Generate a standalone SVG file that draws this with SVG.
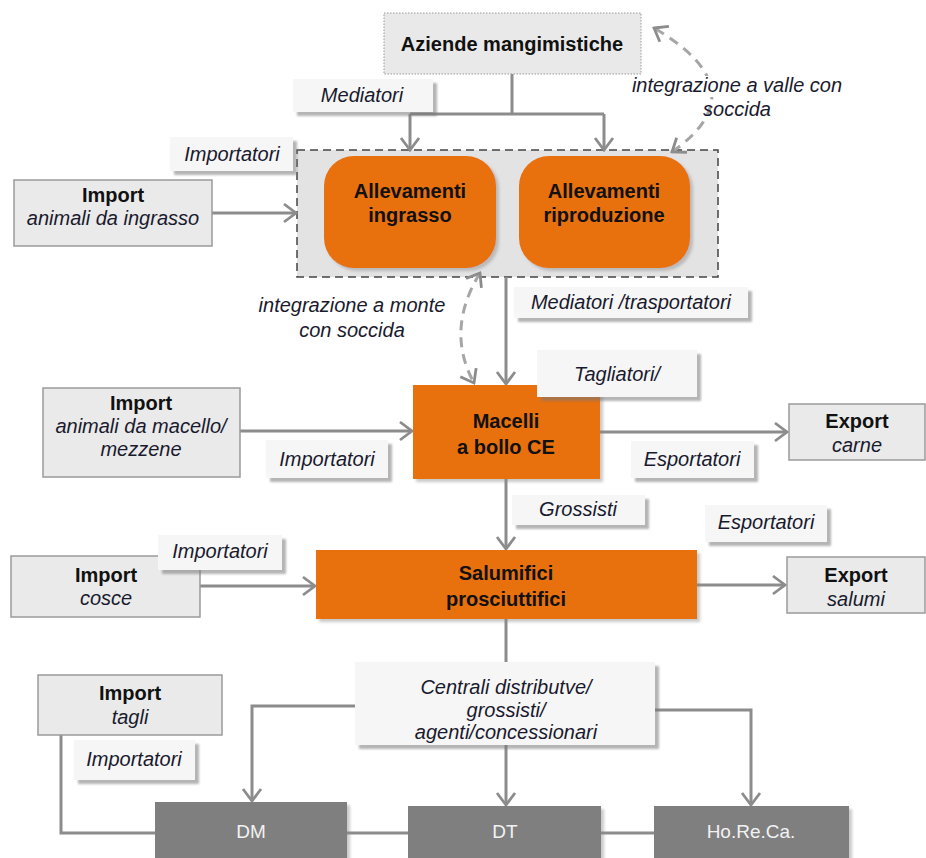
<svg xmlns="http://www.w3.org/2000/svg" width="926" height="858" viewBox="0 0 926 858">
<defs>
  <filter id="sh" x="-10%" y="-10%" width="130%" height="140%">
    <feDropShadow dx="4" dy="4" stdDeviation="1.2" flood-color="#777" flood-opacity="0.55"/>
  </filter>
  <filter id="sh2" x="-10%" y="-10%" width="130%" height="140%">
    <feDropShadow dx="3" dy="3" stdDeviation="1.5" flood-color="#888" flood-opacity="0.45"/>
  </filter>
  <marker id="ar" markerUnits="userSpaceOnUse" markerWidth="16" markerHeight="22" viewBox="0 0 16 22" refX="14" refY="11" orient="auto-start-reverse">
    <path d="M2,2 L14,11 L2,20" fill="none" stroke="#8C8C8C" stroke-width="2.8"/>
  </marker>
</defs>
<style>
  .b { font-family: "Liberation Sans", Arial, sans-serif; font-weight: bold; font-size: 20px; fill: #111; text-anchor: middle; }
  .i { font-family: "Liberation Sans", Arial, sans-serif; font-style: italic; font-size: 20px; fill: #1a1a2e; text-anchor: middle; }
  .w { font-family: "Liberation Sans", Arial, sans-serif; font-size: 19px; fill: #F2F2F2; text-anchor: middle; }
  .lab { fill: #F6F6F6; filter: url(#sh); }
  .gbox { fill: #EAEAEA; stroke: #9A9A9A; stroke-width: 1.5; }
  .org { fill: #E8700F; filter: url(#sh2); }
  .dk { fill: #7F7F7F; filter: url(#sh2); }
  .c { fill: none; stroke: #8C8C8C; stroke-width: 3; }
  .ca { fill: none; stroke: #8C8C8C; stroke-width: 3; marker-end: url(#ar); }
  .cd { fill: none; stroke: #A6A6A6; stroke-width: 3; stroke-dasharray: 10,7; marker-start: url(#ar); marker-end: url(#ar); }
</style>
<rect width="926" height="858" fill="#FFFFFF"/>

<g id="container">
  <rect x="297" y="150" width="421" height="127" fill="#E3E3E3" stroke="#444" stroke-width="1.5" stroke-dasharray="8,5"/>
</g>

<g id="connectors">
  <path class="c" d="M512,74 V114 M410,114 H604"/>
  <path class="ca" d="M410,114 V150"/>
  <path class="ca" d="M604,114 V150"/>
  <path class="ca" d="M212,213 H296"/>
  <path class="ca" d="M506,277 V384"/>
  <path class="ca" d="M240,431 H412"/>
  <path class="ca" d="M600,432 H787"/>
  <path class="ca" d="M506,479 V549"/>
  <path class="ca" d="M200,586 H315"/>
  <path class="ca" d="M697,585 H785"/>
  <path class="c" d="M506,619 V662"/>
  <path class="ca" d="M355,706 H252 V801"/>
  <path class="ca" d="M506,745 V805"/>
  <path class="ca" d="M655,710 H751 V805"/>
  <path class="c" d="M61,735 V833 H155 M347,833 H408 M601,833 H654"/>
  <path class="cd" d="M672,152 Q760,90 654,28"/>
  <path class="cd" d="M480,273 Q445,330 474,383"/>
</g>

<g id="aziende">
  <rect x="384" y="13" width="257" height="61" fill="#E9E9E9" stroke="#999" stroke-width="1" stroke-dasharray="1.5,1.5"/>
  <text class="b" x="512" y="51">Aziende mangimistiche</text>
</g>
<g id="lab-mediatori">
  <rect class="lab" x="293" y="79" width="140" height="33"/>
  <text class="i" x="362" y="102">Mediatori</text>
</g>
<g id="all-ingrasso">
  <rect class="org" x="324" y="156" width="172" height="112" rx="30"/>
  <text class="b" x="410" y="198">Allevamenti</text>
  <text class="b" x="410" y="222">ingrasso</text>
</g>
<g id="all-riproduzione">
  <rect class="org" x="519" y="156" width="171" height="112" rx="30"/>
  <text class="b" x="604" y="198">Allevamenti</text>
  <text class="b" x="604" y="222">riproduzione</text>
</g>
<g id="lab-importatori1">
  <rect class="lab" x="170" y="137" width="123" height="34"/>
  <text class="i" x="232" y="161">Importatori</text>
</g>
<g id="import-ingrasso">
  <rect class="gbox" x="14" y="180" width="198" height="66"/>
  <text class="b" x="113" y="202">Import</text>
  <text class="i" x="113" y="225">animali da ingrasso</text>
</g>
<g id="lab-valle">
  <rect x="624" y="76" width="226" height="21" fill="#FFFFFF"/>
  <text class="i" x="737" y="92">integrazione a valle con</text>
  <text class="i" x="737" y="116">soccida</text>
</g>
<g id="lab-monte">
  <text class="i" x="352" y="312">integrazione a monte</text>
  <text class="i" x="352" y="337">con soccida</text>
</g>
<g id="lab-mediatori-trasp">
  <rect class="lab" x="514" y="287" width="234" height="31"/>
  <text class="i" x="631" y="309">Mediatori /trasportatori</text>
</g>
<g id="macelli">
  <rect class="org" x="413" y="385" width="187" height="94"/>
  <text class="b" x="506" y="428">Macelli</text>
  <text class="b" x="506" y="454">a bollo CE</text>
</g>
<g id="lab-tagliatori">
  <rect class="lab" x="537" y="350" width="160" height="47"/>
  <text class="i" x="617" y="381">Tagliatori/</text>
</g>
<g id="import-macello">
  <rect class="gbox" x="43" y="388" width="197" height="89"/>
  <text class="b" x="141" y="410">Import</text>
  <text class="i" x="141" y="433">animali da macello/</text>
  <text class="i" x="141" y="456">mezzene</text>
</g>
<g id="lab-importatori2">
  <rect class="lab" x="266" y="440" width="122" height="38"/>
  <text class="i" x="327" y="466">Importatori</text>
</g>
<g id="export-carne">
  <rect class="gbox" x="789" y="404" width="136" height="56"/>
  <text class="b" x="857" y="428">Export</text>
  <text class="i" x="857" y="452">carne</text>
</g>
<g id="lab-esportatori1">
  <rect class="lab" x="631" y="441" width="123" height="37"/>
  <text class="i" x="692" y="466">Esportatori</text>
</g>
<g id="lab-esportatori2">
  <rect class="lab" x="705" y="505" width="122" height="37"/>
  <text class="i" x="766" y="529">Esportatori</text>
</g>
<g id="lab-grossisti">
  <rect class="lab" x="512" y="495" width="133" height="30"/>
  <text class="i" x="578" y="516">Grossisti</text>
</g>
<g id="salumifici">
  <rect class="org" x="316" y="550" width="381" height="69"/>
  <text class="b" x="506" y="580">Salumifici</text>
  <text class="b" x="506" y="606">prosciuttifici</text>
</g>
<g id="import-cosce">
  <rect class="gbox" x="11" y="556" width="189" height="61"/>
  <text class="b" x="106" y="582">Import</text>
  <text class="i" x="106" y="605">cosce</text>
</g>
<g id="lab-importatori3">
  <rect class="lab" x="158" y="535" width="124" height="35"/>
  <text class="i" x="220" y="558">Importatori</text>
</g>
<g id="export-salumi">
  <rect class="gbox" x="787" y="557" width="138" height="56"/>
  <text class="b" x="856" y="582">Export</text>
  <text class="i" x="856" y="606">salumi</text>
</g>
<g id="centrali">
  <rect class="lab" x="355" y="662" width="300" height="83"/>
  <text class="i" x="506" y="694">Centrali distributve/</text>
  <text class="i" x="506" y="717">grossisti/</text>
  <text class="i" x="506" y="739">agenti/concessionari</text>
</g>
<g id="import-tagli">
  <rect class="gbox" x="38" y="675" width="184" height="60"/>
  <text class="b" x="130" y="700">Import</text>
  <text class="i" x="130" y="724">tagli</text>
</g>
<g id="lab-importatori4">
  <rect class="lab" x="74" y="740" width="121" height="40"/>
  <text class="i" x="134" y="766">Importatori</text>
</g>
<g id="dm">
  <rect class="dk" x="155" y="802" width="192" height="60"/>
  <text class="w" x="251" y="838">DM</text>
</g>
<g id="dt">
  <rect class="dk" x="408" y="806" width="193" height="56"/>
  <text class="w" x="505" y="838">DT</text>
</g>
<g id="horeca">
  <rect class="dk" x="654" y="806" width="195" height="56"/>
  <text class="w" x="751" y="838">Ho.Re.Ca.</text>
</g>
</svg>
